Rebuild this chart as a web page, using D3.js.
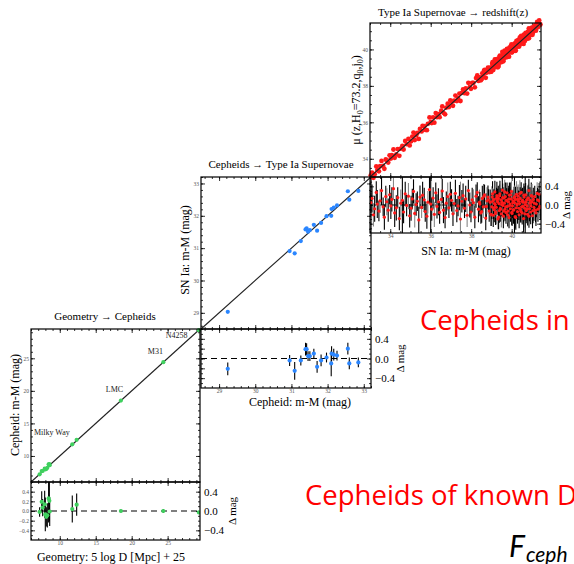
<!DOCTYPE html>
<html>
<head>
<meta charset="utf-8">
<script src="https://cdn.jsdelivr.net/npm/d3@7"></script>
<style>
body { margin: 0; background: #fff; }
svg { display: block; }
text { font-family: "Liberation Serif", "DejaVu Serif", serif; }
text.slide { font-family: "Open Sans", Lato, sans-serif; }
text.math { font-family: Lato, "Open Sans", sans-serif; }
</style>
</head>
<body>
<svg id="chart" width="574" height="564"></svg>
<script>
// ---- rung 1: geometry -> cepheids ----
var geoX    = [7.2, 7.49, 7.62, 7.9, 7.99, 8.13, 8.27, 8.45, 8.55, 8.6, 11.74, 12.35, 18.5, 24.4, 29.35];
var geoDmag = [-0.02, 0.19, 0.07, 0.14, -0.07, -0.12, -0.09, 0.26, 0.21, -0.01, 0.04, 0.13, 0.0, 0.0, -0.03];
var geoErr  = [0.1, 0.22, 0.18, 0.28, 0.35, 0.2, 0.25, 0.5, 0.42, 0.3, 0.28, 0.23, 0.03, 0.04, 0.02];
var geoXErr = [0.1, 0.08, 0.1, 0.15, 0.2, 0.12, 0.1, 0.15, 0.1, 0.12, 0.05, 0.05, 0.1, 0.1, 0.05];
var geoNames = ["Milky Way", "LMC", "M31", "N4258"];
var geoNameX = [6.4, 16.4, 22.25, 24.75];
var geoNameY = [13.2, 19.8, 25.7, 28.1];

// ---- rung 2: cepheids -> SN Ia ----
var cephX    = [29.24, 30.95, 31.09, 31.26, 31.39, 31.42, 31.46, 31.51, 31.62, 31.71, 31.82, 31.97, 32.10, 32.11, 32.17, 32.26, 32.56, 32.60, 32.85];
var cephDmag = [-0.21, -0.04, -0.25, -0.04, 0.19, 0.19, 0.05, 0.05, 0.10, -0.17, -0.04, 0.02, -0.10, 0.10, 0.08, 0.06, 0.20, -0.10, -0.08];
var cephErr  = [0.13, 0.11, 0.18, 0.10, 0.13, 0.12, 0.10, 0.10, 0.10, 0.12, 0.12, 0.10, 0.26, 0.15, 0.12, 0.10, 0.12, 0.12, 0.10];

// ---- rung 3: SN Ia -> redshift  [m-M, delta mag, error] ----
var snIa = [
 [33.04,0.05,0.22],[33.10,0.14,0.30],[33.17,-0.21,0.25],[33.23,-0.08,0.28],[33.31,0.27,0.24],[33.36,0.02,0.30],
 [33.44,-0.13,0.22],[33.50,0.09,0.26],[33.57,0.31,0.31],[33.65,-0.04,0.20],[33.71,-0.26,0.27],[33.78,0.18,0.23],
 [33.83,0.07,0.29],[33.90,-0.11,0.25],[33.97,0.22,0.21],[34.03,-0.02,0.28],[34.08,0.12,0.26],[34.16,0.35,0.24],
 [34.22,-0.17,0.30],[34.30,-0.06,0.27],[34.37,0.16,0.22],[34.45,-0.29,0.25],[34.52,0.04,0.29],[34.60,0.10,0.70],
 [34.66,-0.15,0.24],[34.74,0.24,0.26],[34.81,-0.01,0.23],[34.90,0.19,0.28],[34.96,-0.23,0.25],
 [35.03,-0.07,0.27],[35.09,0.13,0.22],[35.15,0.29,0.26],[35.21,-0.18,0.30],[35.28,0.01,0.24],[35.34,0.08,0.21],
 [35.41,-0.32,0.28],[35.47,0.17,0.25],[35.55,-0.05,0.23],[35.60,0.21,0.29],[35.68,0.11,0.26],[35.73,-0.14,0.22],
 [35.81,-0.24,0.27],[35.86,0.06,0.24],[35.94,0.33,0.30],[36.00,0.02,0.72],[36.05,-0.09,0.25],[36.12,0.15,0.23],
 [36.18,-0.20,0.27],[36.25,0.26,0.22],[36.31,-0.03,0.26],[36.38,0.07,0.29],[36.44,-0.16,0.24],[36.52,0.12,0.21],
 [36.57,0.30,0.26],[36.63,-0.11,0.28],[36.71,-0.27,0.23],[36.77,0.04,0.25],[36.84,0.18,0.30],[36.90,-0.06,0.22],
 [36.97,0.23,0.27],
 [37.03,0.10,0.24],[37.10,-0.19,0.26],[37.16,0.03,0.23],[37.22,0.25,0.29],[37.29,-0.12,0.25],[37.35,-0.02,0.22],
 [37.42,0.16,0.27],[37.47,-0.30,0.80],[37.54,0.08,0.24],[37.60,0.20,0.26],[37.67,-0.07,0.21],[37.73,0.13,0.28],
 [37.80,-0.22,0.25],[37.86,0.31,0.23],[37.93,0.00,0.27],[37.99,-0.15,0.22],[38.05,0.11,0.26],[38.11,0.05,0.29],
 [38.18,-0.26,0.24],[38.24,0.19,0.25],[38.30,0.27,0.22],[38.36,-0.09,0.28],[38.41,0.06,0.27],[38.43,0.02,0.26],
 [38.48,-0.17,0.23],[38.52,-0.14,0.24],[38.55,0.14,0.27],[38.60,-0.04,0.24],[38.63,0.19,0.26],[38.66,0.22,0.21],
 [38.72,-0.28,0.26],[38.75,-0.03,0.28],[38.78,0.09,0.29],[38.83,0.17,0.25],[38.86,0.11,0.23],[38.89,-0.13,0.23],
 [38.94,0.06,0.27],[38.97,-0.20,0.25],[38.99,-0.21,0.24],
 [39.02,-0.04,0.26],[39.04,0.17,0.23],[39.055,0.24,0.27],[39.07,0.08,0.28],[39.09,-0.22,0.25],[39.105,-0.06,0.24],
 [39.12,0.12,0.22],[39.14,-0.10,0.27],[39.155,0.03,0.29],[39.17,0.28,0.24],[39.19,0.01,0.29],[39.205,-0.18,0.25],
 [39.22,-0.15,0.26],[39.24,-0.05,0.23],[39.255,0.14,0.23],[39.27,0.20,0.30],[39.29,0.09,0.25],[39.305,0.07,0.28],
 [39.32,-0.30,0.22],[39.34,0.14,0.27],[39.355,-0.26,0.26],[39.37,0.03,0.24],[39.39,-0.12,0.26],[39.405,0.20,0.24],
 [39.42,0.24,0.28],[39.44,-0.07,0.23],[39.455,-0.09,0.27],[39.47,0.11,0.25],[39.49,-0.19,0.29],[39.505,0.01,0.25],
 [39.52,0.06,0.22],[39.54,0.32,0.27],[39.555,0.16,0.30],[39.57,-0.01,0.24],[39.59,-0.24,0.26],[39.605,-0.13,0.24],
 [39.62,0.15,0.23],[39.64,0.04,0.28],[39.655,0.28,0.26],[39.67,-0.09,0.25],[39.69,0.18,0.30],[39.705,-0.04,0.23],
 [39.72,-0.16,0.24],[39.74,0.10,0.27],[39.755,0.09,0.27],[39.77,0.26,0.22],[39.79,-0.03,0.26],[39.805,-0.21,0.25],
 [39.82,-0.13,0.25],[39.84,0.07,0.29],[39.855,0.13,0.28],[39.87,-0.27,0.23],[39.89,0.21,0.27],[39.905,-0.01,0.24],
 [39.92,0.02,0.24],[39.94,-0.08,0.28],[39.955,0.22,0.26],[39.97,0.13,0.25],[39.99,0.29,0.22],[40.005,-0.16,0.27],
 [40.02,-0.18,0.27],[40.04,-0.02,0.26],[40.055,0.05,0.25],[40.07,0.09,0.24],[40.09,-0.11,0.29],[40.105,-0.10,0.29],
 [40.12,0.16,0.23],[40.14,0.05,0.72],[40.155,0.18,0.24],[40.17,-0.25,0.25],[40.19,0.12,0.27],[40.205,-0.27,0.26],
 [40.22,-0.06,0.24],[40.24,0.23,0.28],[40.255,0.02,0.23],[40.27,0.00,0.22],[40.29,-0.14,0.26],[40.305,0.12,0.27],
 [40.32,0.19,0.25],[40.34,0.08,0.23],[40.355,-0.07,0.25],[40.37,-0.21,0.29],[40.39,0.03,0.27],[40.405,0.25,0.28],
 [40.42,0.14,0.24],[40.44,-0.10,0.26],[40.455,-0.14,0.24],[40.47,0.27,0.22],[40.49,-0.04,0.28],[40.505,0.08,0.26],
 [40.52,-0.17,0.25],[40.54,0.10,0.27],[40.555,-0.03,0.27],[40.57,0.06,0.24],[40.59,-0.29,0.30],[40.605,0.21,0.25],
 [40.62,0.17,0.23],[40.64,-0.07,0.26],[40.655,-0.19,0.29],[40.67,0.01,0.75],[40.69,0.22,0.25],[40.705,0.06,0.24],
 [40.72,-0.12,0.27],[40.74,0.11,0.22],[40.755,-0.08,0.26],[40.77,-0.02,0.26],[40.79,-0.20,0.24],[40.805,0.15,0.27],
 [40.82,0.15,0.29],[40.85,0.31,0.25],[40.855,-0.24,0.25],[40.88,-0.08,0.27],[40.905,0.10,0.28],[40.91,0.04,0.23],
 [40.94,-0.15,0.26],[40.955,-0.02,0.24],[40.97,0.20,0.28],[41.00,0.07,0.24],[41.005,0.19,0.26],[41.03,-0.23,0.27],
 [41.055,-0.12,0.27],[41.07,0.12,0.25],[41.10,-0.05,0.29],[41.12,0.04,0.25],[41.14,0.18,0.23],[41.18,-0.11,0.26],
 [41.20,-0.17,0.28],[41.22,0.02,0.28],[41.26,0.25,0.24],[41.28,0.11,0.26],[41.30,-0.09,0.27],[41.34,0.09,0.25],
 [41.36,0.23,0.24],[41.39,-0.03,0.26],[41.42,-0.05,0.27]
];

var resTicks = [-0.4, -0.2, 0, 0.2, 0.4];
var resRightTicks = [-0.4, 0, 0.4];

var svg = d3.select("#chart");
svg.append("rect").attr("width", 574).attr("height", 564).attr("fill", "#fff");

var panels = [
    {id: "geo", left: 31, right: 200, top: 329, mid: 482, bottom: 540, dom: [6, 29.5],
     major: [10, 15, 20, 25], minor: 1, color: "#3fd05e", resLabels: true, lineOnTop: false, r: 2.1,
     title: "Geometry \u2192 Cepheids", titleX: 105, titleY: 320,
     xlabel: "Geometry: 5 log D [Mpc] + 25", xlabelX: 111, xlabelY: 561,
     ylabel: "Cepheid: m-M (mag)", ylabelX: 19, ylabelY: 405,
     dmagX: 236,
     pts: geoX.map(function (v, i) { return {x: v, d: geoDmag[i], e: geoErr[i], xe: geoXErr[i]}; })},
    {id: "ceph", left: 201, right: 371, top: 177, mid: 329, bottom: 388, dom: [28.5, 33.2],
     major: [29, 30, 31, 32, 33], minor: 0.2, color: "#2b86ff", resLabels: false, lineOnTop: false, r: 2.1,
     title: "Cepheids \u2192 Type Ia Supernovae", titleX: 281, titleY: 168,
     xlabel: "Cepheid: m-M (mag)", xlabelX: 300, xlabelY: 406,
     ylabel: "SN Ia: m-M (mag)", ylabelX: 189, ylabelY: 250,
     dmagX: 404,
     pts: cephX.map(function (v, i) { return {x: v, d: cephDmag[i], e: cephErr[i], xe: 0}; })},
    {id: "sn", left: 370, right: 541, top: 23, mid: 177, bottom: 233, dom: [33, 41.45],
     major: [34, 36, 38, 40], minor: 0.5, color: "#ff1a1a", resLabels: false, lineOnTop: true, r: 2.4,
     title: "Type Ia Supernovae \u2192 redshift(z)", titleX: 453, titleY: 16,
     xlabel: "SN Ia: m-M (mag)", xlabelX: 466, xlabelY: 255,
     ylabel: null, ylabelX: 360, ylabelY: 100,
     dmagX: 570,
     pts: snIa.map(function (r) { return {x: r[0], d: r[1], e: r[2], xe: 0}; })}
];

function axis(g, make, scale, tx, ty, vals, size, fmt, fs, fill, pad) {
    var a = make(scale).tickValues(vals).tickSizeInner(-size).tickSizeOuter(0)
        .tickPadding(pad || 2).tickFormat(fmt || function () { return ""; });
    var ag = g.append("g").attr("transform", "translate(" + tx + "," + ty + ")").call(a);
    ag.select(".domain").remove();
    ag.selectAll("line").attr("stroke", "#000").attr("stroke-width", 0.8);
    ag.selectAll("text").attr("font-size", fs || 5.5).attr("fill", fill || "#555");
    return ag;
}

function minorVals(dom, step) {
    return d3.range(Math.ceil(dom[0] / step) * step, dom[1] + 1e-9, step);
}

function drawPanel(p) {
    var x = d3.scaleLinear().domain(p.dom).range([p.left, p.right]);
    var y = d3.scaleLinear().domain(p.dom).range([p.mid, p.top]);
    var r = d3.scaleLinear().domain([-0.6, 0.6]).range([p.bottom, p.mid]);
    var g = svg.append("g");
    var fmt0 = d3.format("d");
    var fmtR = d3.format(".1f");
    var minX = minorVals(p.dom, p.minor);
    var minR = minorVals([-0.6, 0.6], 0.1);

    svg.append("clipPath").attr("id", "clip-" + p.id).append("rect")
        .attr("x", p.left).attr("y", p.mid).attr("width", p.right - p.left).attr("height", p.bottom - p.mid);

    // ticks: main box
    axis(g, d3.axisBottom, x, 0, p.mid, minX, 2);
    axis(g, d3.axisBottom, x, 0, p.mid, p.major, 4);
    axis(g, d3.axisTop, x, 0, p.top, minX, 2);
    axis(g, d3.axisTop, x, 0, p.top, p.major, 4);
    axis(g, d3.axisLeft, y, p.left, 0, minX, 2);
    axis(g, d3.axisLeft, y, p.left, 0, p.major, 4, fmt0);
    axis(g, d3.axisRight, y, p.right, 0, minX, 2);
    axis(g, d3.axisRight, y, p.right, 0, p.major, 4);
    // ticks: residual box
    axis(g, d3.axisBottom, x, 0, p.bottom, minX, 2);
    axis(g, d3.axisBottom, x, 0, p.bottom, p.major, 4, fmt0, 5.5, "#555", 1.5);
    axis(g, d3.axisTop, x, 0, p.mid, minX, 2);
    axis(g, d3.axisTop, x, 0, p.mid, p.major, 4);
    axis(g, d3.axisLeft, r, p.left, 0, minR, 2);
    axis(g, d3.axisLeft, r, p.left, 0, resTicks, 4, p.resLabels ? fmtR : null);
    axis(g, d3.axisRight, r, p.right, 0, minR, 2);
    axis(g, d3.axisRight, r, p.right, 0, resRightTicks, 4, fmtR, 11, "#000", 4);

    var fit = g.append("line")
        .attr("x1", x(p.dom[0])).attr("y1", y(p.dom[0]))
        .attr("x2", x(p.dom[1])).attr("y2", y(p.dom[1]))
        .attr("stroke", "#222").attr("stroke-width", 1.1);

    // main points
    g.selectAll(".pt-" + p.id).data(p.pts).enter().append("circle")
        .attr("cx", function (d) { return x(d.x); })
        .attr("cy", function (d) { return y(d.x + d.d); })
        .attr("r", p.r).attr("fill", p.color);
    if (p.lineOnTop) fit.raise();

    // residuals
    var rg = g.append("g").attr("clip-path", "url(#clip-" + p.id + ")");
    rg.append("line").attr("x1", p.left).attr("x2", p.right)
        .attr("y1", r(0)).attr("y2", r(0))
        .attr("stroke", "#000").attr("stroke-width", 1.2).attr("stroke-dasharray", "6,4");
    rg.selectAll(".eb").data(p.pts).enter().append("line")
        .attr("x1", function (d) { return x(d.x); }).attr("x2", function (d) { return x(d.x); })
        .attr("y1", function (d) { return r(d.d - d.e); }).attr("y2", function (d) { return r(d.d + d.e); })
        .attr("stroke", function (d, i) { return (p.id === "sn" && i % 5 === 2) ? "#888" : "#000"; })
        .attr("stroke-width", 1.1);
    rg.selectAll(".ex").data(p.pts.filter(function (d) { return d.xe > 0; })).enter().append("line")
        .attr("x1", function (d) { return x(d.x - d.xe); }).attr("x2", function (d) { return x(d.x + d.xe); })
        .attr("y1", function (d) { return r(d.d); }).attr("y2", function (d) { return r(d.d); })
        .attr("stroke", "#000").attr("stroke-width", 1.1);
    rg.selectAll(".rp").data(p.pts).enter().append("circle")
        .attr("cx", function (d) { return x(d.x); })
        .attr("cy", function (d) { return r(d.d); })
        .attr("r", p.id === "sn" ? 1.6 : 2.1).attr("fill", p.color);

    // boxes
    g.append("rect").attr("x", p.left).attr("y", p.top).attr("width", p.right - p.left)
        .attr("height", p.mid - p.top).attr("fill", "none").attr("stroke", "#000").attr("stroke-width", 1.2);
    g.append("rect").attr("x", p.left).attr("y", p.mid).attr("width", p.right - p.left)
        .attr("height", p.bottom - p.mid).attr("fill", "none").attr("stroke", "#000").attr("stroke-width", 1.2);

    // labels
    g.append("text").attr("x", p.titleX).attr("y", p.titleY).attr("text-anchor", "middle")
        .attr("font-size", 11).text(p.title);
    g.append("text").attr("x", p.xlabelX).attr("y", p.xlabelY).attr("text-anchor", "middle")
        .attr("font-size", 12).text(p.xlabel);
    var yl = g.append("text").attr("text-anchor", "middle").attr("font-size", 12)
        .attr("transform", "translate(" + p.ylabelX + "," + p.ylabelY + ") rotate(-90)");
    if (p.ylabel) {
        yl.text(p.ylabel);
    } else {
        yl.append("tspan").text("\u03bc (z,H");
        yl.append("tspan").attr("font-size", 8).attr("dy", 3).text("0");
        yl.append("tspan").attr("dy", -3).text("=73.2,q");
        yl.append("tspan").attr("font-size", 8).attr("dy", 3).text("0");
        yl.append("tspan").attr("dy", -3).text(",j");
        yl.append("tspan").attr("font-size", 8).attr("dy", 3).text("0");
        yl.append("tspan").attr("dy", -3).text(")");
    }
    g.append("text").attr("text-anchor", "middle").attr("font-size", 11)
        .attr("transform", "translate(" + p.dmagX + "," + ((p.mid + p.bottom) / 2) + ") rotate(-90)")
        .text("\u0394 mag");

    if (p.id === "geo") {
        g.selectAll(".gname").data(geoNames).enter().append("text")
            .attr("x", function (d, i) { return x(geoNameX[i]); })
            .attr("y", function (d, i) { return y(geoNameY[i]); })
            .attr("font-size", 8).attr("fill", "#222").text(function (d) { return d; });
    }
}

panels.forEach(drawPanel);

// slide text
svg.append("text").attr("class", "slide").attr("x", 420).attr("y", 330).attr("font-size", 27.5)
    .attr("fill", "#ff0000").text("Cepheids in");
svg.append("text").attr("class", "slide").attr("x", 305).attr("y", 505).attr("font-size", 27.5)
    .attr("fill", "#ff0000").text("Cepheids of known D");
var fc = svg.append("text").attr("class", "math").attr("x", 509).attr("y", 557)
    .attr("font-style", "italic").attr("font-size", 30).attr("fill", "#000");
fc.append("tspan").text("F");
fc.append("tspan").attr("font-size", 21).attr("dy", 5).attr("dx", 1).text("ceph");
</script>
</body>
</html>
